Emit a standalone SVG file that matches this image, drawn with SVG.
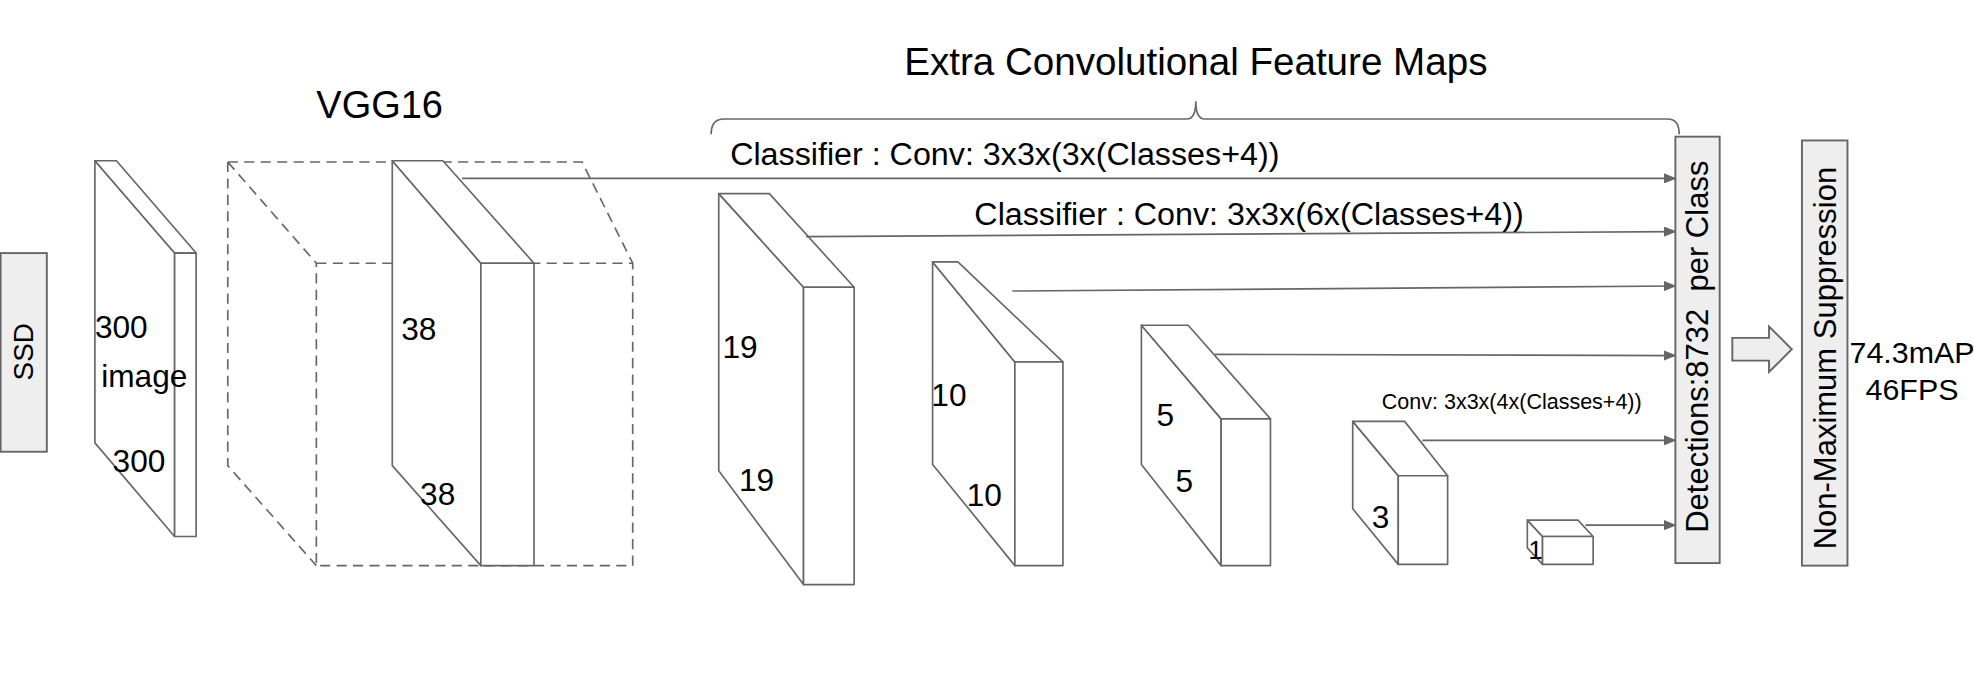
<svg xmlns="http://www.w3.org/2000/svg" width="1974" height="693" viewBox="0 0 1974 693">
<defs>
<style>
.s{fill:#fff;stroke:#666;stroke-width:1.3;stroke-linejoin:round}
.d{fill:none;stroke:#666;stroke-width:1.3;stroke-dasharray:8 5}
.b{fill:#eee;stroke:#666;stroke-width:1.5}
.c{stroke:#666;stroke-width:1.3;fill:none;marker-end:url(#ah)}
text{font-family:"Liberation Sans",Arial,sans-serif;fill:#000}
.t{font-size:22px}
.n{font-size:25px}
.k{font-size:25.5px}
.v{font-size:24.5px}
</style>
<marker id="ah" markerWidth="10" markerHeight="8" refX="9" refY="4" orient="auto" markerUnits="userSpaceOnUse"><path d="M0,0 L10,4 L0,8 z" fill="#666"/></marker>
</defs>
<rect width="1974" height="693" fill="#fff"/>
<g transform="scale(1.2654)">
<g id="ssd"><rect class="b" x="0.5" y="200" width="36.5" height="157"/><text class="t" transform="translate(26,278) rotate(-90)" text-anchor="middle">SSD</text></g>
<g id="image">
<polygon class="s" points="75,127 138,200 138,424 75,350"/>
<polygon class="s" points="75,127 92,127 155,200 138,200"/>
<rect class="s" x="138" y="200" width="17" height="224"/>
<text class="n" x="75" y="267">300</text><text class="n" x="80" y="306">image</text><text class="n" x="89" y="373">300</text>
</g>
<g id="vgg16">
<text x="300" y="93" font-size="30" text-anchor="middle">VGG16</text>
<path class="d" d="M180,128 H460 L500,208 M180,128 V368 L250,447 M180,128 L250,208"/>
<rect class="d" x="250" y="208" width="250" height="239"/>
<polygon class="s" points="310,127 380,208 380,447 310,368"/>
<polygon class="s" points="310,127 350,127 422,208 380,208"/>
<rect class="s" x="380" y="208" width="42" height="239"/>
<text class="n" x="317" y="269">38</text><text class="n" x="332" y="399">38</text>
</g>
<g id="extra">
<text x="945" y="59" font-size="30.5" text-anchor="middle">Extra Convolutional Feature Maps</text>
<path d="M562,106 Q562,94 572,94 H938 Q945,94 945,80 Q945,94 952,94 H1318 Q1327,94 1327,106" fill="none" stroke="#666" stroke-width="1.3"/>
</g>
<g id="f19">
<polygon class="s" points="568,153 635,227 635,462 568,372"/>
<polygon class="s" points="568,153 608,153 675,227 635,227"/>
<rect class="s" x="635" y="227" width="40" height="235"/>
<text class="n" x="571" y="283">19</text><text class="n" x="584" y="388">19</text>
</g>
<g id="f10">
<polygon class="s" points="737,207 802,286 802,447 737,367"/>
<polygon class="s" points="737,207 757,207 840,286 802,286"/>
<rect class="s" x="802" y="286" width="38" height="161"/>
<text class="n" x="736" y="321">10</text><text class="n" x="764" y="400">10</text>
</g>
<g id="f5">
<polygon class="s" points="902,257 965,331 965,447 902,367"/>
<polygon class="s" points="902,257 939,257 1004,331 965,331"/>
<rect class="s" x="965" y="331" width="39" height="116"/>
<text class="n" x="914" y="337">5</text><text class="n" x="929" y="389">5</text>
</g>
<g id="f3">
<text x="1092" y="323" font-size="17">Conv: 3x3x(4x(Classes+4))</text>
<polygon class="s" points="1069,333 1105,376 1105,446 1069,402"/>
<polygon class="s" points="1069,333 1110,333 1144,376 1105,376"/>
<rect class="s" x="1105" y="376" width="39" height="70"/>
<text class="n" x="1084" y="417">3</text>
</g>
<g id="f1">
<polygon class="s" points="1207,411 1219,424 1219,446 1207,433"/>
<polygon class="s" points="1207,411 1247,411 1259,424 1219,424"/>
<rect class="s" x="1219" y="424" width="40" height="22"/>
<text x="1208" y="442" font-size="20">1</text>
</g>
<g id="connectors">
<line class="c" x1="365" y1="141" x2="1324" y2="141"/>
<line class="c" x1="637" y1="187" x2="1324" y2="183"/>
<line class="c" x1="800" y1="230" x2="1324" y2="226"/>
<line class="c" x1="960" y1="280" x2="1324" y2="281"/>
<line class="c" x1="1124" y1="348" x2="1324" y2="348"/>
<line class="c" x1="1253" y1="415" x2="1324" y2="415"/>
<text class="k" x="577" y="130">Classifier : Conv: 3x3x(3x(Classes+4))</text>
<text class="k" x="770" y="178">Classifier : Conv: 3x3x(6x(Classes+4))</text>
<polygon class="b" points="1369,267 1398,267 1398,258 1416,276 1398,294 1398,285 1369,285"/>
</g>
<g id="detections"><rect class="b" x="1324" y="108" width="35" height="337"/><text class="v" transform="translate(1350,274) rotate(-90)" text-anchor="middle" xml:space="preserve">Detections:8732  per Class</text></g>
<g id="nms"><rect class="b" x="1424" y="111" width="36" height="336"/><text class="v" transform="translate(1451,283) rotate(-90)" text-anchor="middle">Non-Maximum Suppression</text></g>
<g id="result"><text x="1511" y="287" font-size="24" text-anchor="middle">74.3mAP</text><text x="1511" y="316" font-size="24" text-anchor="middle">46FPS</text></g>
</g>
</svg>
